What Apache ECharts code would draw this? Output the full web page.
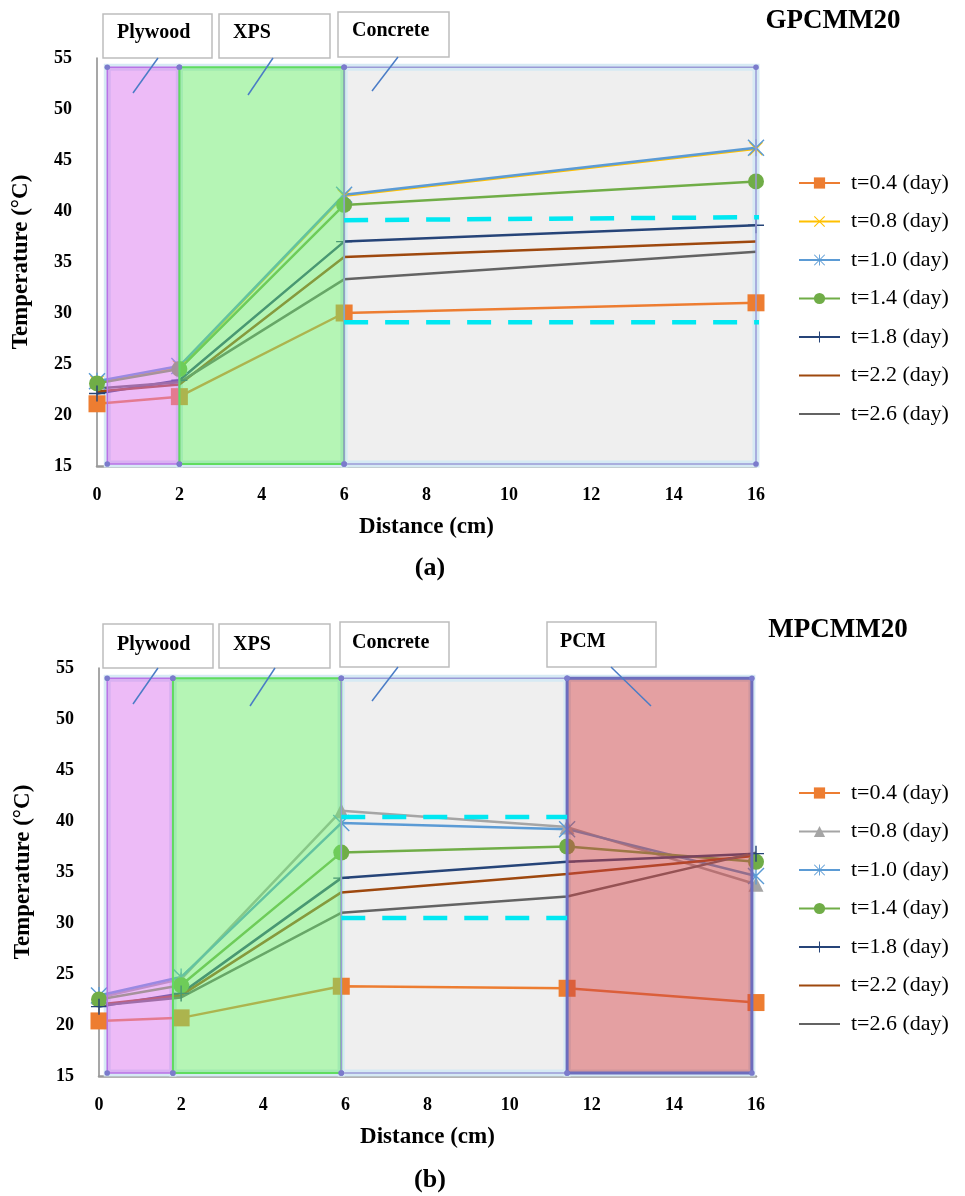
<!DOCTYPE html>
<html><head><meta charset="utf-8">
<script src="https://cdn.jsdelivr.net/npm/echarts@6/dist/echarts.min.js"></script>
<style>html,body{margin:0;padding:0;background:#fff}#c{width:965px;height:1196px}</style>
</head><body><div id="c"></div>
<script>
// ---------- data ----------
const seriesNames = ['t=0.4 (day)','t=0.8 (day)','t=1.0 (day)','t=1.4 (day)','t=1.8 (day)','t=2.2 (day)','t=2.6 (day)'];
const xTickLabels = ['0','2','4','6','8','10','12','14','16'];
const yTickLabels = ['15','20','25','30','35','40','45','50','55'];

// Panel (a) GPCMM20
const distA = [0, 2, 6, 16];
const a_t04 = [21.1, 21.8, 30.0, 31.0];
const a_t08 = [23.2, 24.7, 41.5, 46.1];
const a_t10 = [23.3, 24.8, 41.6, 46.2];
const a_t14 = [23.1, 24.5, 40.6, 42.9];
const a_t18 = [22.1, 23.4, 37.0, 38.6];
const a_t22 = [22.3, 23.0, 35.5, 37.0];
const a_t26 = [22.6, 23.2, 33.3, 36.0];
const a_cyanUpperX = [6.0, 16.3];
const a_cyanUpperY = [39.1, 39.4];
const a_cyanLowerX = [6.0, 16.3];
const a_cyanLowerY = [29.1, 29.1];
const layerNamesA = ['Plywood','XPS','Concrete'];
const layerStartA = [0.25, 2.0, 6.0];
const layerEndA   = [2.0, 6.0, 16.0];
const layerTopA = 54.1, layerBottomA = 15.2;

// Panel (b) MPCMM20
const distB = [0, 2, 5.9, 11.4, 16];
const b_t04 = [20.4, 20.7, 23.8, 23.6, 22.2];
const b_t08 = [22.7, 24.5, 41.0, 39.4, 33.8];
const b_t10 = [22.9, 24.7, 39.8, 39.2, 34.6];
const b_t14 = [22.5, 23.9, 36.9, 37.5, 36.0];
const b_t18 = [21.8, 23.1, 34.4, 36.0, 36.8];
const b_t22 = [22.0, 22.9, 33.0, 34.8, 36.6];
const b_t26 = [21.9, 22.7, 31.0, 32.6, 36.9];
const b_cyanUpperX = [5.9, 11.4];
const b_cyanUpperY = [40.4, 40.4];
const b_cyanLowerX = [5.9, 11.4];
const b_cyanLowerY = [30.5, 30.5];
const layerNamesB = ['Plywood','XPS','Concrete','PCM'];
const layerStartB = [0.2, 1.8, 5.9, 11.4];
const layerEndB   = [1.8, 5.9, 11.4, 15.9];
const layerTopB = 54.0, layerBottomB = 15.3;

// ---------- styles ----------
const FONT = '"Liberation Serif","Times New Roman",serif';
const SYM_X = 'path://M-10,-8.6L-8.6,-10L10,8.6L8.6,10Z M8.6,-10L10,-8.6L-8.6,10L-10,8.6Z';
const SYM_AST = 'path://M-10,-8.8L-8.8,-10L10,8.8L8.8,10Z M8.8,-10L10,-8.8L-8.8,10L-10,8.8Z M-0.8,-10L0.8,-10L0.8,10L-0.8,10Z';
const SYM_PLUS = 'path://M-0.9,-10L0.9,-10L0.9,10L-0.9,10Z M-10,-0.9L10,-0.9L10,0.9L-10,0.9Z';
const stylesA = [
  {color:'#ED7D31', symbol:'rect', size:17},
  {color:'#FFC000', symbol:SYM_X, size:14},
  {color:'#5B9BD5', symbol:SYM_AST, size:17},
  {color:'#70AD47', symbol:'circle', size:16},
  {color:'#264478', symbol:SYM_PLUS, size:16},
  {color:'#9E480E', symbol:'none', size:0},
  {color:'#636363', symbol:'none', size:0}
];
const stylesB = stylesA.slice();
stylesB[1] = {color:'#A5A5A5', symbol:'triangle', size:15};

const overFill = {Plywood:'rgba(219,119,239,0.5)', XPS:'rgba(107,235,107,0.5)', PCM:'rgba(201,65,69,0.5)'};
const overStroke = {Plywood:'#b873e6', XPS:'#5fdc5f', Concrete:'#9a9ad6', PCM:'#6d6dbd'};
const overWidth = {Plywood:1.5, XPS:2, Concrete:1.5, PCM:3};

function zip(xs, ys){ return xs.map((x,i)=>[x, ys[i]]); }
function layerData(starts, ends, bottom, top){ return starts.map((s,i)=>[s, ends[i], bottom, top]); }

function rectOf(api){
  const tl = api.coord([api.value(0), api.value(3)]);
  const br = api.coord([api.value(1), api.value(2)]);
  return {x:tl[0], y:tl[1], width:br[0]-tl[0], height:br[1]-tl[1]};
}
function underRender(names){
  return function(params, api){
    const r = rectOf(api);
    const nm = names[params.dataIndex];
    return {type:'rect', shape:r, style:{fill: nm==='Concrete' ? '#EFEFEF' : 'none', stroke:'#d6eaf4', lineWidth:7}};
  };
}
function overRender(names){
  return function(params, api){
    const r = rectOf(api);
    const nm = names[params.dataIndex];
    const dot = (x,y)=>({type:'circle', shape:{cx:x, cy:y, r:2.8}, style:{fill:'#7b7bcc'}});
    return {type:'group', children:[
      {type:'rect', shape:r, style:{fill: overFill[nm] || 'none', stroke: overStroke[nm], lineWidth: overWidth[nm]}},
      dot(r.x, r.y), dot(r.x + r.width, r.y), dot(r.x, r.y + r.height), dot(r.x + r.width, r.y + r.height)
    ]};
  };
}

function makeAxes(gi){
  return {
    x: {gridIndex:gi, type:'value', min:0, max:16, interval:2,
      axisLine:{show:true, lineStyle:{color:'#9a9a9a', width:2.5}}, axisTick:{show:false}, splitLine:{show:false},
      axisLabel:{margin:20, color:'#000', fontFamily:FONT, fontWeight:'bold', fontSize:18,
        formatter:(v)=>xTickLabels[Math.round(v/2)]},
      name:'Distance (cm)', nameLocation:'middle', nameGap:50,
      nameTextStyle:{color:'#000', fontFamily:FONT, fontWeight:'bold', fontSize:23}},
    y: {gridIndex:gi, type:'value', min:15, max:55, interval:5,
      axisLine:{show:true, lineStyle:{color:'#8a8a8a', width:1.5}}, axisTick:{show:false}, splitLine:{show:false},
      axisLabel:{margin:25, color:'#000', fontFamily:FONT, fontWeight:'bold', fontSize:18,
        formatter:(v)=>yTickLabels[Math.round((v-15)/5)]},
      name:'Temperature (°C)', nameLocation:'middle', nameGap:64,
      nameTextStyle:{color:'#000', fontFamily:FONT, fontWeight:'bold', fontSize:23}}
  };
}

function lineSeries(prefix, gi, dist, arrays, styles){
  return arrays.map((arr,i)=>({
    name: prefix + seriesNames[i], type:'line', xAxisIndex:gi, yAxisIndex:gi, z:2,
    data: zip(dist, arr), symbol: styles[i].symbol, symbolSize: styles[i].size, showSymbol: styles[i].symbol!=='none',
    lineStyle:{color:styles[i].color, width:2.5}, itemStyle:{color:styles[i].color},
    emphasis:{disabled:true}, animation:false, clip:false
  }));
}
function cyanSeries(gi, xs, ys){
  return {type:'line', xAxisIndex:gi, yAxisIndex:gi, z:4, data:zip(xs, ys), symbol:'none', clip:false,
    lineStyle:{color:'#00E8F2', width:4.5, type:[24,17]}, animation:false, silent:true};
}

const axA = makeAxes(0), axB = makeAxes(1);
const series = [];
series.push({type:'custom', xAxisIndex:0, yAxisIndex:0, z:1, clip:false, silent:true,
  data: layerData(layerStartA, layerEndA, layerBottomA, layerTopA), encode:{x:[0,1], y:[2,3]}, renderItem: underRender(layerNamesA)});
series.push({type:'custom', xAxisIndex:1, yAxisIndex:1, z:1, clip:false, silent:true,
  data: layerData(layerStartB, layerEndB, layerBottomB, layerTopB), encode:{x:[0,1], y:[2,3]}, renderItem: underRender(layerNamesB)});
series.push(...lineSeries('', 0, distA, [a_t04,a_t08,a_t10,a_t14,a_t18,a_t22,a_t26], stylesA));
series.push(...lineSeries('b:', 1, distB, [b_t04,b_t08,b_t10,b_t14,b_t18,b_t22,b_t26], stylesB));
series.push({type:'custom', xAxisIndex:0, yAxisIndex:0, z:3, clip:false, silent:true,
  data: layerData(layerStartA, layerEndA, layerBottomA, layerTopA), encode:{x:[0,1], y:[2,3]}, renderItem: overRender(layerNamesA)});
series.push({type:'custom', xAxisIndex:1, yAxisIndex:1, z:3, clip:false, silent:true,
  data: layerData(layerStartB, layerEndB, layerBottomB, layerTopB), encode:{x:[0,1], y:[2,3]}, renderItem: overRender(layerNamesB)});
series.push(cyanSeries(0, a_cyanUpperX, a_cyanUpperY), cyanSeries(0, a_cyanLowerX, a_cyanLowerY));
series.push(cyanSeries(1, b_cyanUpperX, b_cyanUpperY), cyanSeries(1, b_cyanLowerX, b_cyanLowerY));

function legend(prefix, top, styles){
  return {orient:'vertical', left:798, top:top, padding:0, itemWidth:41, itemHeight:14, itemGap:16.5,
    data: seriesNames.map((n,i)=> styles[i].symbol==='none'
      ? {name:prefix+n, itemStyle:{opacity:0}} : {name:prefix+n}),
    formatter:(n)=>n.replace(/^b:/,''), selectedMode:false,
    textStyle:{fontFamily:FONT, fontSize:22, color:'#000', lineHeight:22, padding:[0,0,0,6]}};
}

function box(x,y,w,h,text,tx,ty){
  return [
    {type:'rect', shape:{x:x,y:y,width:w,height:h}, style:{fill:'#fff', stroke:'#bdbdbd', lineWidth:1.5}, z:10},
    {type:'text', x:tx, y:ty, style:{text:text, font:'bold 20px '+FONT, fill:'#000', verticalAlign:'middle', align:'left'}, z:11}
  ];
}
function leader(x1,y1,x2,y2){
  return {type:'line', shape:{x1:x1,y1:y1,x2:x2,y2:y2}, style:{stroke:'#4a7cc6', lineWidth:1.5}, z:10};
}
function label(text, x, y, size){
  return {type:'text', x:x, y:y, style:{text:text, font:'bold '+size+'px '+FONT, fill:'#000', align:'center', verticalAlign:'middle'}, z:11};
}

const graphic = [].concat(
  box(103,14,109,44,'Plywood',117,33), box(219,14,111,44,'XPS',233,33), box(338,12,111,45,'Concrete',352,31),
  [leader(158,58,133,93), leader(273,58,248,95), leader(398,57,372,91)],
  box(103,624,110,44,'Plywood',117,645), box(219,624,111,44,'XPS',233,645), box(340,622,109,45,'Concrete',352,643),
  box(547,622,109,45,'PCM',560,642),
  [leader(158,668,133,704), leader(275,668,250,706), leader(398,667,372,701), leader(611,667,651,706)],
  [label('GPCMM20',833,21,27), label('MPCMM20',838,630,27), label('(a)',430,568,26), label('(b)',430,1180,26)]
);

const chart = echarts.init(document.getElementById('c'), null, {renderer:'canvas'});
chart.setOption({
  backgroundColor:'#fff',
  animation:false,
  grid:[{left:97, top:58, width:659, height:408}, {left:99, top:668, width:657, height:408}],
  xAxis:[axA.x, axB.x], yAxis:[axA.y, axB.y],
  legend:[legend('',172,stylesA), legend('b:',782,stylesB)],
  graphic: graphic,
  series: series
});
</script></body></html>
